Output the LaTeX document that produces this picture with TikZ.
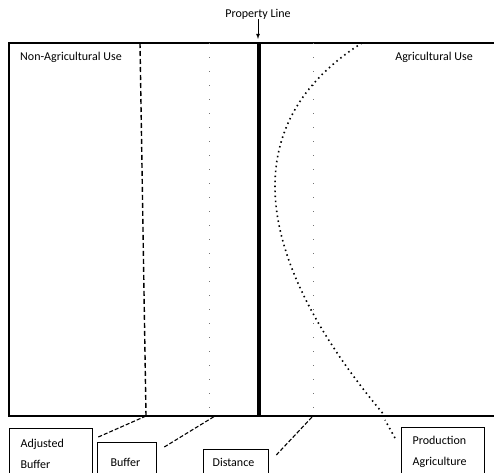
\documentclass[tikz,border=0pt]{standalone}
\usepackage{fontspec}
\setmainfont{Carlito}
\usetikzlibrary{calc}

\tikzset{
	usetext/.style={font=\fontsize{12}{14}\selectfont, inner sep=0pt},
	infobox/.style={draw, line width=1.3pt, font=\fontsize{12}{14}\selectfont, align=left, anchor=north west, inner ysep=0pt},
	leader/.style={line width=1.1pt, dash pattern=on 4pt off 2pt},
	faintline/.style={line width=0.9pt, color=black!55, dash pattern=on 1pt off 13pt},
	dotline/.style={line width=1.6pt, dash pattern=on 1.5pt off 3.5pt},
}

\begin{document}
\begin{tikzpicture}[x=10pt, y=-10pt]
			%%%%% START %%%%%
			\useasboundingbox (0, 0) rectangle (49.4, 47.2);
			
			% field outline, right side runs off the page
			\draw[line width=1.4pt] (50, 4.3) -- (0.9, 4.3) -- (0.9, 41.6) -- (50, 41.6);
			
			\node[usetext, anchor=west] (nonag) at (2.0, 5.7) {Non-Agricultural Use};
			\node[usetext, anchor=east] (ag) at (47.3, 5.7) {Agricultural Use};
			
			% property line
			\draw[line width=4pt] (25.9, 4.3) -- (25.9, 41.6);
			\node[usetext] (prop) at (25.8, 1.4) {Property Line};
			\coordinate (proptop) at (25.8, 3.9);
			\draw[line width=0.8pt, -latex] (prop.south) -- (proptop);
			
			% buffer lines
			\coordinate (adjbot) at (14.6, 41.6);
			\draw[line width=1.4pt, dash pattern=on 5pt off 3pt] (14.0, 4.3) -- (adjbot);
			\coordinate (bufbot) at (21.5, 41.6);
			\draw[faintline] (20.9, 4.3) -- (20.9, 41.6);
			\coordinate (distbot) at (31.3, 41.6);
			\draw[faintline] (31.3, 4.3) -- (distbot);
			
			% production agriculture edge
			\coordinate (prodbot) at (38.5, 41.6);
			\draw[dotline] (36.2, 4.3) .. controls (24.0, 12.0) and (24.5, 25.0) .. (prodbot);
			
			% boxes
			\node[infobox, minimum width=83pt, minimum height=50pt, inner xsep=11pt, text width=61pt] (adj) at (0.9, 42.8) {Adjusted\\[7pt]Buffer};
			\node[infobox, minimum width=59pt, minimum height=40pt, inner xsep=13pt, text width=33pt] (buf) at (9.7, 44.2) {Buffer};
			\node[infobox, minimum width=65pt, minimum height=26pt, inner xsep=9pt, text width=47pt] (dist) at (20.3, 44.9) {Distance};
			\node[infobox, minimum width=83pt, minimum height=48pt, inner xsep=11pt, text width=61pt] (prod) at (40.1, 42.7) {Production\\[7pt]Agriculture};
			
			\draw[leader] ([xshift=5pt, yshift=-9pt]adj.north east) -- (adjbot);
			\draw[leader] ([xshift=7pt, yshift=-5pt]buf.north east) -- (bufbot);
			\draw[leader] ([xshift=7pt, yshift=-6pt]dist.north east) -- (distbot);
			\draw[dotline] ([xshift=-6pt, yshift=-11pt]prod.north west) -- ([yshift=-4pt]prodbot);
			
			%%%%% END %%%%%
		\end{tikzpicture}
\end{document}
